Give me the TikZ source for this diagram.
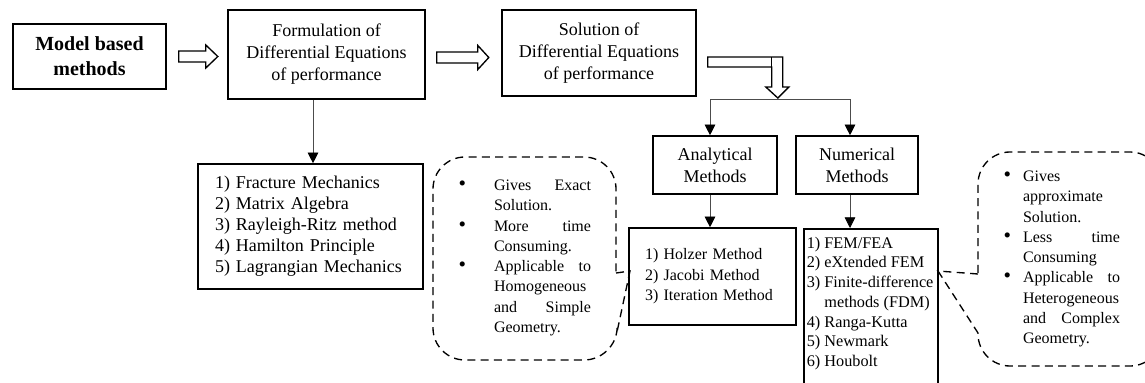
\documentclass[tikz,border=0pt]{standalone}
\usepackage{fontspec}
\setmainfont{Liberation Serif}
\usetikzlibrary{arrows.meta}
\newcommand\notebullet[1]{\leavevmode\llap{{\fontsize{16}{16}\selectfont\textbullet}\hspace{#1}}}
\tikzset{
  box/.style={draw, line width=1.2pt, inner sep=0pt, align=center, font=\fontsize{13.5}{16.5}\selectfont},
  listbox/.style={draw, line width=1.2pt, inner sep=0pt, align=left},
  hollow/.style={draw, line width=1pt, line join=miter},
  link/.style={draw=black!70, line width=0.6pt},
  arr/.style={link, -{Triangle[length=8pt,width=8pt,color=black]}},
  callout/.style={dash pattern=on 6pt off 4pt, line width=1pt},
  note/.style={inner sep=0pt, text width=72.75pt, align=left, font=\fontsize{12}{15.2}\selectfont},
}
\begin{document}
\begin{tikzpicture}[x=0.75pt,y=-0.75pt]
  \useasboundingbox (0,0) rectangle (1145,382);
  \clip (0,0) rectangle (1145,382);

  % top row
  \node[box, minimum width=114.75pt, minimum height=48.75pt, font=\fontsize{15}{18.75}\selectfont\bfseries] (model) at (89.5,56.5) {Model based\\methods};
  \node[box, minimum width=147.75pt, minimum height=66.75pt] (formul) at (326.5,54.5) {Formulation of\\Differential Equations\\of performance};
  \node[box, minimum width=145.5pt, minimum height=64.5pt] (solution) at (599,53) {Solution of\\Differential Equations\\of performance};

  % method boxes
  \node[box, minimum width=93pt, minimum height=43.5pt] (analytic) at (715,165) {Analytical\\Methods};
  \node[box, minimum width=91.5pt, minimum height=43.5pt] (numer) at (857,165) {Numerical\\Methods};

  % lists
  \node[listbox, minimum width=168.75pt, minimum height=93.75pt, text width=143.25pt, font=\fontsize{13.5}{15.75}\selectfont] (leftlist) at (310.5,226.5)
    {1) Fracture Mechanics\\2) Matrix Algebra\\3) Rayleigh-Ritz method\\4) Hamilton Principle\\5) Lagrangian Mechanics};
  \node[listbox, minimum width=125.25pt, minimum height=72.75pt, text width=101.25pt, font=\fontsize{12}{15.4}\selectfont] (holzer) at (712.5,276.5)
    {1) Holzer Method\\2) Jacobi Method\\3) Iteration Method};
  \node[listbox, anchor=north west, inner xsep=2.25pt, inner ysep=6pt, font=\fontsize{12.2}{14.8}\selectfont] (numlist) at (803,228)
    {\parbox[c][117pt][t]{96pt}{\raggedright
      \mbox{1) FEM/FEA}\\\mbox{2) eXtended FEM}\\\mbox{3) Finite-difference}\\\mbox{\hphantom{3)}\ methods (FDM)}\\
      \mbox{4) Ranga-Kutta}\\\mbox{5) Newmark}\\\mbox{6) Houbolt}}};

  % hollow arrows
  \draw[hollow] ([xshift=9pt]model.east) ++(0,-5.5) -- ++(27,0) -- ++(0,-6) -- ++(12,11.5) -- ++(-12,11.5) -- ++(0,-6) -- ++(-27,0) -- cycle;
  \draw[hollow] ([xshift=8.25pt,yshift=-2.25pt]formul.east) ++(0,-5.5) -- ++(41,0) -- ++(0,-6.5) -- ++(11,12) -- ++(-11,12) -- ++(0,-6.5) -- ++(-41,0) -- cycle;
  \draw[hollow] ([xshift=8.25pt,yshift=-3pt]solution.east) ++(0,0) -- ++(75,0) -- ++(0,30) -- ++(6,0) -- ++(-11,11) -- ++(-12,-11) -- ++(6,0) -- ++(0,-20) -- ++(-64,0) -- cycle;
  \draw[hollow] ([xshift=8.25pt,yshift=-3pt]solution.east) ++(64,0) -- ++(0,10);

  % connectors
  \coordinate (forkL) at (710,99);
  \coordinate (forkR) at (850,99);
  \draw[link] (forkL) -- (forkR);
  \draw[arr] (forkL) -- (forkL |- analytic.north);
  \draw[arr] (forkR) -- (forkR |- numer.north);
  \draw[arr] (analytic.south -| forkL) -- (holzer.north -| forkL);
  \draw[arr] (numer.south -| forkR) -- (numlist.north -| forkR);
  \draw[arr] ([xshift=-10.125pt]formul.south) -- ([xshift=1.875pt]leftlist.north);

  % callouts
  \draw[callout] (616,273) -- (630,271) -- (617,332) [rounded corners=24] -- (616,360) -- (433,360) -- (433,157) -- (616,157) -- (616,273);
  \draw[callout] (978,274) -- (938,271) -- (978,333) [rounded corners=24] -- (978,366) -- (1162,366) -- (1162,152) -- (978,152) -- (978,274);

  \node[note] (lnote) at (542.5,258)
    {\notebullet{21pt}Gives\hfill Exact\\Solution.\\\notebullet{21pt}More\hfill time\\Consuming.\\
     \notebullet{21pt}Applicable\hfill to\\Homogeneous\\and\hfill Simple\\Geometry.};
  \node[note] (rnote) at (1071.5,259)
    {\notebullet{9pt}Gives\\approximate\\Solution.\\\notebullet{9pt}Less\hfill time\\Consuming\\
     \notebullet{9pt}Applicable\hfill to\\Heterogeneous\\and\hfill Complex\\Geometry.};
\end{tikzpicture}
\end{document}
